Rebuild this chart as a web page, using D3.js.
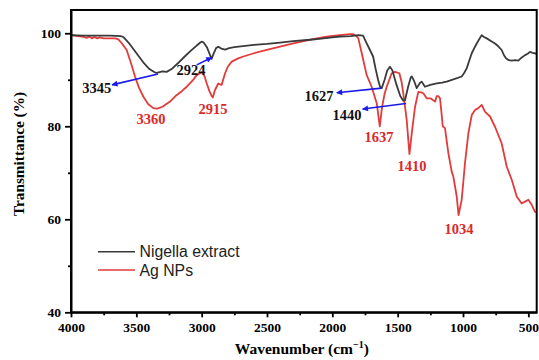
<!DOCTYPE html>
<html><head><meta charset="utf-8">
<script src="https://cdn.jsdelivr.net/npm/d3@7/dist/d3.min.js"></script>
<style>body{margin:0;background:#fff}svg{display:block}</style>
</head><body><svg id="c" width="539" height="360"></svg>
<script>
// ---- data ----
const nigellaWave = [4000,3900,3800,3700,3620,3600,3560,3520,3480,3440,3400,3360,3344,3300,3268,3230,3180,3130,3080,3040,3010,3000,2985,2960,2940,2924,2910,2890,2873,2850,2821,2790,2750,2700,2600,2500,2400,2300,2171,2100,2000,1941,1860,1800,1765,1740,1712,1688,1670,1650,1635,1622,1600,1580,1559,1540,1510,1480,1457,1444,1420,1400,1392,1375,1354,1330,1316,1291,1250,1201,1160,1125,1074,1040,1010,990,971,950,933,910,895,870,857,840,818,790,755,730,704,685,671,650,627,600,577,550,525,505,487,470,449,436];
const nigellaT = [99.6,99.5,99.5,99.5,99.4,99.2,98.0,96.5,95.0,93.5,92.3,91.6,91.5,91.8,91.7,92.3,93.6,95.0,96.3,97.3,98.0,98.2,98.0,97.0,95.6,94.5,95.5,96.8,97.1,96.7,96.5,96.8,97.0,97.2,97.5,97.7,98.0,98.3,98.6,98.8,99.1,99.3,99.4,99.6,99.5,98.0,96.4,95.0,92.5,90.0,88.5,88.2,90.0,92.0,92.8,92.0,89.0,86.5,85.5,85.6,88.5,90.5,90.7,89.8,88.2,89.3,89.6,88.5,88.9,89.2,89.4,89.6,90.1,90.4,90.7,91.5,92.5,94.3,95.7,97.0,97.8,99.0,99.6,99.2,98.9,98.4,97.8,97.2,96.4,95.2,94.6,94.2,94.1,94.2,94.1,94.8,95.3,95.6,96.0,95.8,95.7,95.5];

const agWave = [4000,3950,3900,3880,3860,3840,3820,3800,3780,3750,3700,3660,3638,3610,3574,3540,3510,3480,3447,3410,3370,3340,3300,3242,3200,3150,3114,3070,3038,3013,2995,2975,2961,2940,2923,2915,2898,2873,2860,2847,2821,2800,2770,2720,2681,2600,2502,2400,2299,2200,2119,2030,1941,1865,1839,1813,1801,1775,1737,1699,1660,1637,1620,1600,1584,1546,1520,1487,1470,1457,1431,1410,1390,1367,1342,1320,1304,1278,1250,1239,1214,1201,1189,1176,1165,1155,1138,1112,1086,1074,1048,1034,1010,985,959,933,908,883,857,831,793,755,704,665,627,589,551,525,500,474,449,436];
const agT = [99.6,99.4,99.2,99.0,99.3,98.9,99.2,98.9,99.1,98.9,98.9,98.9,98.7,97.8,96.4,93.5,90.7,88.3,86.4,84.8,83.9,83.8,84.2,85.3,86.5,87.6,88.5,89.8,91.0,91.4,91.7,90.5,89.2,87.5,86.5,86.2,87.8,89.2,89.0,88.9,91.4,92.8,93.9,94.6,95.0,95.7,96.4,97.1,97.8,98.4,98.9,99.3,99.6,99.8,99.8,99.3,98.9,95.7,91.0,88.5,84.9,80.0,84.0,87.0,88.5,91.4,91.7,91.4,89.5,87.1,81.4,74.0,79.0,84.2,87.4,87.3,87.1,86.0,86.0,85.8,85.3,86.5,86.5,86.0,83.0,80.0,79.6,74.2,70.2,69.2,64.9,60.9,64.2,72.0,78.5,82.4,83.5,83.9,84.6,83.1,82.1,79.9,76.3,71.3,68.5,64.9,63.4,63.8,64.2,63.1,61.6,61.5];

const seriesNames = ["Nigella extract", "Ag NPs"];
const xTicks = [4000,3500,3000,2500,2000,1500,1000,500];
const xMinorTicks = [3750,3250,2750,2250,1750,1250,750];
const yTicks = [40,60,80,100];
const yMinorTicks = [50,70,90];

// peak labels: [text, wavenumber, transmittance, series]
const peakLabels = [
  ["3345", 3803, 87.2, 0], ["2924", 3082, 91.0, 0], ["1627", 2102, 85.4, 0], ["1440", 1888, 81.4, 0],
  ["3360", 3388, 80.5, 1], ["2915", 2913, 82.6, 1], ["1637", 1643, 76.6, 1], ["1410", 1390, 70.4, 1], ["1034", 1030, 56.8, 1]
];
// arrows: [fromWave, fromT, toWave, toT]
const arrows = [
  [3334, 91.25, 3686, 88.9],
  [3038, 93.2, 2923, 94.8],
  [1622, 88.2, 1966, 87.2],
  [1436, 84.9, 1768, 83.7]
];

// ---- chart ----
const svg = d3.select("#c");
const L = 71, R = 536.7, T = 10, B = 312.3;
const x = d3.scaleLinear().domain([4000, 436]).range([L, R]);
const y = d3.scaleLinear().domain([40, 105]).range([B, T]);
const colors = ["#3a3a3a", "#e23b3b"];
const labelColors = ["#111", "#d92a2a"];
const serif = "'Liberation Serif','Times New Roman',serif";

svg.append("defs").append("marker")
  .attr("id","ah").attr("viewBox","0 0 10 10").attr("refX",9).attr("refY",5)
  .attr("markerWidth",7).attr("markerHeight",6).attr("markerUnits","userSpaceOnUse")
  .attr("orient","auto")
  .append("path").attr("d","M0,0L10,5L0,10Z").attr("fill","#1a1ae8");

const line = d3.line().x(d => x(d[0])).y(d => y(d[1]));
const data = [d3.zip(nigellaWave, nigellaT), d3.zip(agWave, agT)];
// draw red first? black appears on top of red in overlaps
[1,0].forEach(i => {
  svg.append("path").datum(data[i]).attr("d", line)
    .attr("fill","none").attr("stroke", colors[i]).attr("stroke-width",1.8)
    .attr("stroke-linejoin","round");
});

// axes
const xAxis = svg.append("g").attr("transform",`translate(0,${B})`)
  .call(d3.axisBottom(x).tickValues(xTicks).tickSize(5).tickSizeOuter(0).tickPadding(3).tickFormat(d3.format("d")));
svg.append("g").attr("transform",`translate(0,${B})`)
  .call(d3.axisBottom(x).tickValues(xMinorTicks).tickSize(3).tickSizeOuter(0).tickFormat(""))
  .call(g => g.select(".domain").remove());
const yAxis = svg.append("g").attr("transform",`translate(${L},0)`)
  .call(d3.axisLeft(y).tickValues(yTicks).tickSize(6).tickSizeOuter(0).tickPadding(4));
svg.append("g").attr("transform",`translate(${L},0)`)
  .call(d3.axisLeft(y).tickValues(yMinorTicks).tickSize(3).tickSizeOuter(0).tickFormat(""))
  .call(g => g.select(".domain").remove());
svg.selectAll(".tick line").attr("stroke","#000").attr("stroke-width",1.8);
svg.selectAll(".domain").attr("stroke","#000").attr("stroke-width",2);
svg.selectAll(".tick text").attr("font-family",serif).attr("font-weight","bold")
  .attr("font-size","13.5px").attr("fill","#000");
xAxis.selectAll(".tick text").attr("dy","0.9em");

// frame
svg.append("rect").attr("x",L).attr("y",T).attr("width",R-L).attr("height",B-T)
  .attr("fill","none").attr("stroke","#000").attr("stroke-width",2);

// axis titles
const xt = svg.append("text").attr("x",(L+R)/2 - 2).attr("y",354).attr("text-anchor","middle")
  .attr("font-family",serif).attr("font-weight","bold").attr("font-size","15.5px");
xt.append("tspan").text("Wavenumber (cm");
xt.append("tspan").text("\u22121").attr("font-size","10px").attr("dy","-6");
xt.append("tspan").text(")").attr("dy","6");
svg.append("text").attr("transform","translate(24,154) rotate(-90)").attr("text-anchor","middle")
  .attr("font-family",serif).attr("font-weight","bold").attr("font-size","15.3px")
  .text("Transmittance (%)");

// arrows
arrows.forEach(a => {
  svg.append("line").attr("x1",x(a[0])).attr("y1",y(a[1])).attr("x2",x(a[2])).attr("y2",y(a[3]))
    .attr("stroke","#1a1ae8").attr("stroke-width",1.6).attr("marker-end","url(#ah)");
});

// peak labels
peakLabels.forEach(p => {
  svg.append("text").attr("x",x(p[1])).attr("y",y(p[2])).attr("text-anchor","middle")
    .attr("font-family",serif).attr("font-weight","bold").attr("font-size","14.5px")
    .attr("fill",labelColors[p[3]]).text(p[0]);
});

// legend
seriesNames.forEach((n,i) => {
  const ly = 251.7 + i*18.3;
  svg.append("line").attr("x1",98).attr("x2",135).attr("y1",ly).attr("y2",ly)
    .attr("stroke",colors[i]).attr("stroke-width",1.6);
  svg.append("text").attr("x",139.5).attr("y",ly+5.5)
    .attr("font-family","'Liberation Sans',Arial,sans-serif").attr("font-size","15.8px")
    .attr("fill","#222").text(n);
});
</script></body></html>
